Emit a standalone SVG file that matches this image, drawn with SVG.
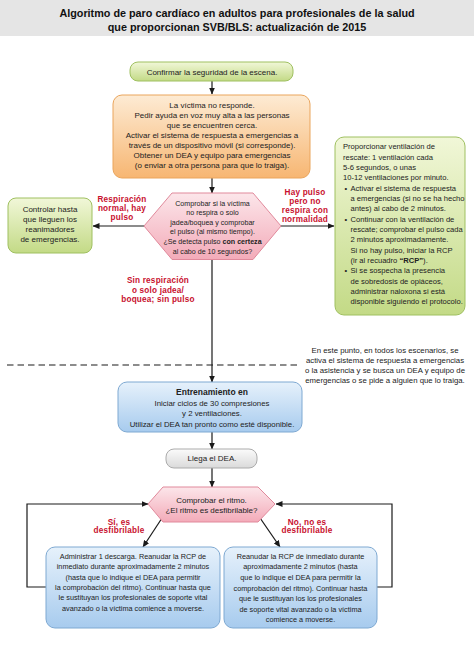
<svg xmlns="http://www.w3.org/2000/svg" width="474" height="656" viewBox="0 0 474 656">
<defs>
<linearGradient id="gGreen" x1="0" y1="0" x2="0" y2="1"><stop offset="0" stop-color="#f1f7d8"/><stop offset="1" stop-color="#c3da86"/></linearGradient>
<linearGradient id="gOrange" x1="0" y1="0" x2="0" y2="1"><stop offset="0" stop-color="#fdebd4"/><stop offset="1" stop-color="#f7b672"/></linearGradient>
<linearGradient id="gBlue" x1="0" y1="0" x2="0" y2="1"><stop offset="0" stop-color="#e6f1fb"/><stop offset="1" stop-color="#a7cbee"/></linearGradient>
<linearGradient id="gGray" x1="0" y1="0" x2="0" y2="1"><stop offset="0" stop-color="#fbfbfb"/><stop offset="1" stop-color="#dadada"/></linearGradient>
<linearGradient id="gPink" x1="0" y1="0" x2="0" y2="1"><stop offset="0" stop-color="#fce6ea"/><stop offset="1" stop-color="#f3abb9"/></linearGradient>
<marker id="arr" markerUnits="userSpaceOnUse" markerWidth="7" markerHeight="6" refX="6.5" refY="3" orient="auto"><path d="M0,0 L7,3 L0,6 z" fill="#1a1a1a"/></marker>
</defs>
<style>
text{font-family:"Liberation Sans",Arial,Helvetica,sans-serif;fill:#222}
.t{font-weight:bold;font-size:10.8px;text-anchor:middle;fill:#111}
.c{text-anchor:middle}
.s8{font-size:8px}
.s78{font-size:7.8px}
.s76{font-size:7.6px}
.s73{font-size:7.3px}
.s68{font-size:7.1px}
.r{font-weight:bold;font-size:8.2px;fill:#c8102e;text-anchor:middle;letter-spacing:0.2px}
.b{font-weight:bold}
.green{fill:url(#gGreen);stroke:#9fc060;stroke-width:1}
.orange{fill:url(#gOrange);stroke:#eaa55c;stroke-width:1}
.blue{fill:url(#gBlue);stroke:#7ea9d2;stroke-width:1}
.gray{fill:url(#gGray);stroke:#ababab;stroke-width:1}
.pink{fill:url(#gPink);stroke:#e0899b;stroke-width:1}
.ln{fill:none;stroke:#1a1a1a;stroke-width:1.2}
</style>
<rect x="0" y="0" width="474" height="36" fill="#e5e5e5"/>
<text class="t" x="237" y="16.5">Algoritmo de paro cardíaco en adultos para profesionales de la salud</text>
<text class="t" x="237" y="30.5">que proporcionan SVB/BLS: actualización de 2015</text>

<g id="connectors">
<line class="ln" x1="212" y1="81" x2="212" y2="94" marker-end="url(#arr)"/>
<line class="ln" x1="212" y1="178" x2="212" y2="193" marker-end="url(#arr)"/>
<line class="ln" x1="212" y1="259.5" x2="212" y2="382" marker-end="url(#arr)"/>
<line class="ln" x1="212" y1="432" x2="212" y2="449" marker-end="url(#arr)"/>
<line class="ln" x1="212" y1="468" x2="212" y2="487" marker-end="url(#arr)"/>
<line class="ln" x1="144" y1="226" x2="93" y2="226" marker-end="url(#arr)"/>
<line class="ln" x1="281" y1="226" x2="334" y2="226" marker-end="url(#arr)"/>
<line class="ln" x1="164" y1="515" x2="143" y2="547" marker-end="url(#arr)"/>
<line class="ln" x1="258" y1="515" x2="280" y2="547" marker-end="url(#arr)"/>
<polyline class="ln" points="46,587 27,587 27,504 148,504" marker-end="url(#arr)"/>
<polyline class="ln" points="377,587 392,587 392,504 276,504" marker-end="url(#arr)"/>
<line x1="7" y1="365" x2="298" y2="365" stroke="#1a1a1a" stroke-width="1.2" stroke-dasharray="6.5,4"/>
</g>

<g id="n_confirm">
<rect class="green" x="130" y="62" width="163" height="19" rx="8"/>
<text class="c s8" x="212" y="74.5">Confirmar la seguridad de la escena.</text>
</g>

<g id="n_noresponde">
<rect class="orange" x="113" y="95" width="197" height="83" rx="9"/>
<text class="c s8" x="212" y="107.8">La víctima no responde.</text>
<text class="c s8" x="212" y="117.8">Pedir ayuda en voz muy alta a las personas</text>
<text class="c s8" x="212" y="127.8">que se encuentren cerca.</text>
<text class="c s8" x="212" y="137.8">Activar el sistema de respuesta a emergencias a</text>
<text class="c s8" x="212" y="147.8">través de un dispositivo móvil (si corresponde).</text>
<text class="c s8" x="212" y="157.8">Obtener un DEA y equipo para emergencias</text>
<text class="c s8" x="212" y="167.8">(o enviar a otra persona para que lo traiga).</text>
</g>

<g id="n_comprobar">
<polygon class="pink" points="144,226 172,193 253,193 281,226 253,259.5 172,259.5"/>
<text class="c s68" x="212.5" y="205.5">Comprobar si la víctima</text>
<text class="c s68" x="212.5" y="215.1">no respira o solo</text>
<text class="c s68" x="212.5" y="224.7">jadea/boquea y comprobar</text>
<text class="c s68" x="212.5" y="234.3">el pulso (al mismo tiempo).</text>
<text class="c s68" x="212.5" y="243.9">¿Se detecta pulso <tspan class="b">con certeza</tspan></text>
<text class="c s68" x="212.5" y="253.5">al cabo de 10 segundos?</text>
</g>

<g id="n_controlar">
<rect class="green" x="8" y="198" width="84" height="55" rx="8"/>
<text class="c s8" x="50" y="211.8">Controlar hasta</text>
<text class="c s8" x="50" y="221.8">que lleguen los</text>
<text class="c s8" x="50" y="231.8">reanimadores</text>
<text class="c s8" x="50" y="242.3">de emergencias.</text>
</g>

<g id="lbl_normal">
<text class="r" x="122" y="202">Respiración</text>
<text class="r" x="122" y="211">normal, hay</text>
<text class="r" x="122" y="220">pulso</text>
</g>

<g id="lbl_haypulso">
<text class="r" x="305" y="194.5">Hay pulso</text>
<text class="r" x="305" y="203.5">pero no</text>
<text class="r" x="305" y="212.5">respira con</text>
<text class="r" x="305" y="221.5">normalidad</text>
</g>

<g id="lbl_sinresp">
<text class="r" x="158" y="283">Sin respiración</text>
<text class="r" x="158" y="292.5">o solo jadea/</text>
<text class="r" x="158" y="302">boquea; sin pulso</text>
</g>

<g id="n_ventilacion">
<rect class="green" x="335" y="137" width="130" height="178" rx="9"/>
<text class="s76" x="343" y="149.4">Proporcionar ventilación de</text>
<text class="s76" x="343" y="159.7">rescate: 1 ventilación cada</text>
<text class="s76" x="343" y="170.1">5-6 segundos, o unas</text>
<text class="s76" x="343" y="180.4">10-12 ventilaciones por minuto.</text>
<text class="s76" x="344.5" y="190.7">•</text>
<text class="s76" x="350.5" y="190.7">Activar el sistema de respuesta</text>
<text class="s76" x="350.5" y="201.1">a emergencias (si no se ha hecho</text>
<text class="s76" x="350.5" y="211.4">antes) al cabo de 2 minutos.</text>
<text class="s76" x="344.5" y="221.7">•</text>
<text class="s76" x="350.5" y="221.7">Continuar con la ventilación de</text>
<text class="s76" x="350.5" y="232.1">rescate; comprobar el pulso cada</text>
<text class="s76" x="350.5" y="242.4">2 minutos aproximadamente.</text>
<text class="s76" x="350.5" y="252.7">Si no hay pulso, iniciar la RCP</text>
<text class="s76" x="350.5" y="263.1">(ir al recuadro <tspan class="b">“RCP”</tspan>).</text>
<text class="s76" x="344.5" y="273.4">•</text>
<text class="s76" x="350.5" y="273.4">Si se sospecha la presencia</text>
<text class="s76" x="350.5" y="283.7">de sobredosis de opiáceos,</text>
<text class="s76" x="350.5" y="294.1">administrar naloxona si está</text>
<text class="s76" x="350.5" y="304.4">disponible siguiendo el protocolo.</text>
</g>

<g id="note">
<text class="c s78" x="385" y="353.2">En este punto, en todos los escenarios, se</text>
<text class="c s78" x="385" y="363.4">activa el sistema de respuesta a emergencias</text>
<text class="c s78" x="385" y="373.4">o la asistencia y se busca un DEA y equipo de</text>
<text class="c s78" x="385" y="383.4">emergencias o se pide a alguien que lo traiga.</text>
</g>

<g id="n_rcp">
<rect class="blue" x="118" y="382" width="184" height="50" rx="9"/>
<text class="c b" x="212" y="395" style="font-size:8.5px">Entrenamiento en</text>
<text class="c s78" x="212" y="405.6">Iniciar ciclos de 30 compresiones</text>
<text class="c s78" x="212" y="416.4">y 2 ventilaciones.</text>
<text class="c s78" x="212" y="427">Utilizar el DEA tan pronto como esté disponible.</text>
</g>

<g id="n_llega">
<rect class="gray" x="166" y="449" width="91" height="19" rx="8"/>
<text class="c s8" x="212" y="461.3">Llega el DEA.</text>
</g>

<g id="n_ritmo">
<polygon class="pink" points="148,504 163,487 258,487 275,504 258,522 163,522"/>
<text class="c s8" x="211.5" y="502.8">Comprobar el ritmo.</text>
<text class="c s8" x="211.5" y="512.8">¿El ritmo es desfibrilable?</text>
</g>

<g id="lbl_si">
<text class="r" x="119" y="524.5">Sí, es</text>
<text class="r" x="119" y="533">desfibrilable</text>
</g>
<g id="lbl_no">
<text class="r" x="307" y="524.5">No, no es</text>
<text class="r" x="307" y="533">desfibrilable</text>
</g>

<g id="n_descarga">
<rect class="blue" x="46" y="547" width="174" height="81" rx="9"/>
<text class="c s73" x="133" y="558.7">Administrar 1 descarga. Reanudar la RCP de</text>
<text class="c s73" x="133" y="569.1">inmediato durante aproximadamente 2 minutos</text>
<text class="c s73" x="133" y="579.5">(hasta que lo indique el DEA para permitir</text>
<text class="c s73" x="133" y="589.9">la comprobación del ritmo). Continuar hasta que</text>
<text class="c s73" x="133" y="600.3">le sustituyan los profesionales de soporte vital</text>
<text class="c s73" x="133" y="610.7">avanzado o la víctima comience a moverse.</text>
</g>

<g id="n_reanudar">
<rect class="blue" x="224" y="547" width="153" height="81" rx="9"/>
<text class="c s73" x="300.5" y="558.7">Reanudar la RCP de inmediato durante</text>
<text class="c s73" x="300.5" y="569.3">aproximadamente 2 minutos (hasta</text>
<text class="c s73" x="300.5" y="579.9">que lo indique el DEA para permitir la</text>
<text class="c s73" x="300.5" y="590.5">comprobación del ritmo). Continuar hasta</text>
<text class="c s73" x="300.5" y="601.1">que le sustituyan los los profesionales</text>
<text class="c s73" x="300.5" y="611.7">de soporte vital avanzado o la víctima</text>
<text class="c s73" x="300.5" y="622.3">comience a moverse.</text>
</g>
</svg>
